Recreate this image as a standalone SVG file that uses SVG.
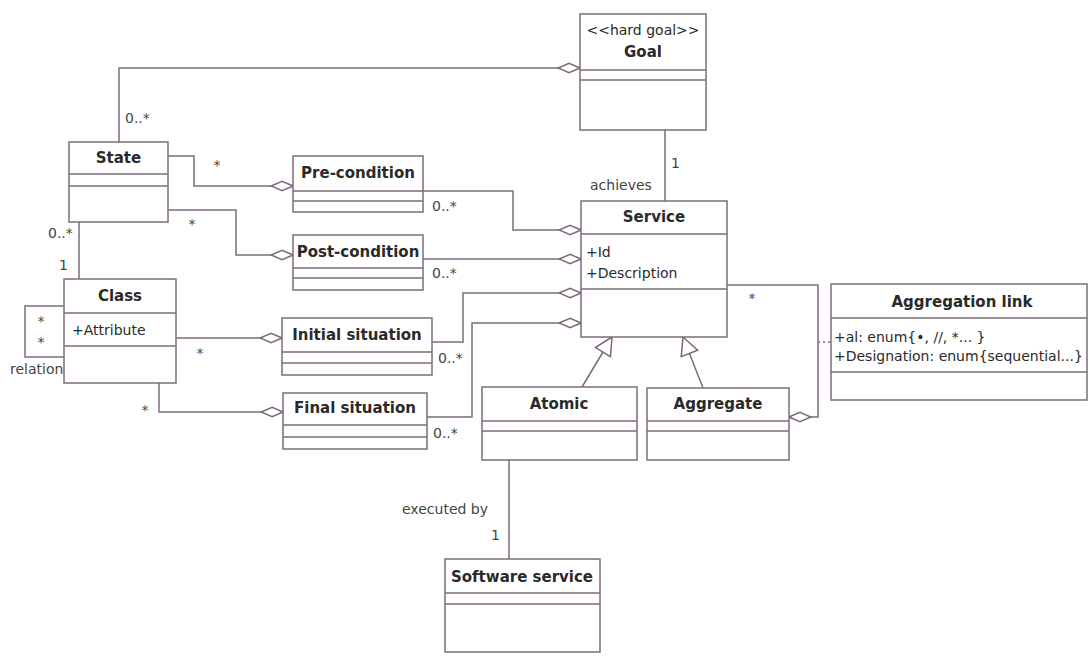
<svg xmlns="http://www.w3.org/2000/svg" width="1090" height="656" viewBox="0 0 1090 656">
<style>
.box{fill:#fff;stroke:#7d6b7d;stroke-width:1.5}
.sep{stroke:#7d6b7d;stroke-width:1.5}
.ln{fill:none;stroke:#7d6b7d;stroke-width:1.5}
.agg{marker-end:url(#diamond)}
.gen{marker-end:url(#tri)}
.t{font-family:"DejaVu Sans",Verdana,sans-serif;fill:#2a2a2a}
.name{font-size:15px;font-weight:bold;text-anchor:middle}
.attr{font-size:14px}
.lbl{font-size:14px;fill:#444}
.mid{text-anchor:middle}
</style>
<defs>
<marker id="diamond" markerUnits="userSpaceOnUse" markerWidth="24" markerHeight="12" viewBox="0 0 22 10" refX="21" refY="5" orient="auto">
<path d="M1,5 L11,0.8 L21,5 L11,9.2 Z" fill="#fff" stroke="#7d6b7d" stroke-width="1.4"/>
</marker>
<marker id="tri" markerUnits="userSpaceOnUse" markerWidth="22" markerHeight="22" viewBox="0 0 20 20" refX="19" refY="10" orient="auto">
<path d="M19,10 L3,2 L3,18 Z" fill="#fff" stroke="#7d6b7d" stroke-width="1.4"/>
</marker>
</defs>

<g id="connectors">
<path class="ln agg" d="M119,142 L119,68 L580,68"/>
<path class="ln" d="M665,130 L665,201"/>
<path class="ln" d="M79,222 L79,279"/>
<path class="ln" d="M64,306 L25,306 L25,357 L64,357"/>
<path class="ln agg" d="M168,156 L194,156 L194,186 L293,186"/>
<path class="ln agg" d="M168,210 L236,210 L236,255 L293,255"/>
<path class="ln agg" d="M176,338 L282,338"/>
<path class="ln agg" d="M159,383 L159,412 L283,412"/>
<path class="ln agg" d="M423,191 L513,191 L513,230 L581,230"/>
<path class="ln agg" d="M423,259 L581,259"/>
<path class="ln agg" d="M432,342 L463,342 L463,293 L581,293"/>
<path class="ln agg" d="M427,417 L472,417 L472,323 L581,323"/>
<path class="ln gen" d="M582,387 L612,337"/>
<path class="ln gen" d="M703,388 L683,337"/>
<path class="ln agg" d="M727,285 L818,285 L818,417 L789,417"/>
<path class="ln" d="M818,342 L831,342" stroke-dasharray="2,3"/>
<path class="ln" d="M509,460 L509,559"/>
</g>

<g id="labels">
<text class="t lbl" x="125" y="123">0..*</text>
<text class="t lbl mid" x="217" y="170">*</text>
<text class="t lbl mid" x="192" y="229">*</text>
<text class="t lbl" x="48" y="238">0..*</text>
<text class="t lbl" x="59" y="270">1</text>
<text class="t lbl mid" x="41" y="326">*</text>
<text class="t lbl mid" x="41" y="347">*</text>
<text class="t lbl" x="10" y="374">relation</text>
<text class="t lbl mid" x="200" y="358">*</text>
<text class="t lbl mid" x="145" y="415">*</text>
<text class="t lbl" x="432" y="211">0..*</text>
<text class="t lbl" x="432" y="278">0..*</text>
<text class="t lbl" x="438" y="363">0..*</text>
<text class="t lbl" x="433" y="438">0..*</text>
<text class="t lbl" x="590" y="190">achieves</text>
<text class="t lbl" x="671" y="168">1</text>
<text class="t lbl mid" x="752" y="303">*</text>
<text class="t lbl" x="402" y="514">executed by</text>
<text class="t lbl" x="491" y="540">1</text>
</g>

<g id="goal">
<rect class="box" x="580" y="14" width="126" height="116"/>
<line class="sep" x1="580" y1="70" x2="706" y2="70"/>
<line class="sep" x1="580" y1="80" x2="706" y2="80"/>
<text class="t attr mid" x="643" y="35">&lt;&lt;hard goal&gt;&gt;</text>
<text class="t name" x="643" y="57">Goal</text>
</g>

<g id="state">
<rect class="box" x="69" y="142" width="99" height="80"/>
<line class="sep" x1="69" y1="174" x2="168" y2="174"/>
<line class="sep" x1="69" y1="186" x2="168" y2="186"/>
<text class="t name" x="118.5" y="163">State</text>
</g>

<g id="class">
<rect class="box" x="64" y="279" width="112" height="104"/>
<line class="sep" x1="64" y1="313" x2="176" y2="313"/>
<line class="sep" x1="64" y1="346" x2="176" y2="346"/>
<text class="t name" x="120" y="301">Class</text>
<text class="t attr" x="72" y="335">+Attribute</text>
</g>

<g id="precondition">
<rect class="box" x="293" y="156" width="130" height="56"/>
<line class="sep" x1="293" y1="191" x2="423" y2="191"/>
<line class="sep" x1="293" y1="201" x2="423" y2="201"/>
<text class="t name" x="358" y="178">Pre-condition</text>
</g>

<g id="postcondition">
<rect class="box" x="293" y="235" width="130" height="55"/>
<line class="sep" x1="293" y1="268" x2="423" y2="268"/>
<line class="sep" x1="293" y1="278" x2="423" y2="278"/>
<text class="t name" x="358" y="257">Post-condition</text>
</g>

<g id="initial">
<rect class="box" x="282" y="318" width="150" height="57"/>
<line class="sep" x1="282" y1="352" x2="432" y2="352"/>
<line class="sep" x1="282" y1="363" x2="432" y2="363"/>
<text class="t name" x="357" y="340">Initial situation</text>
</g>

<g id="final">
<rect class="box" x="283" y="393" width="144" height="56"/>
<line class="sep" x1="283" y1="425" x2="427" y2="425"/>
<line class="sep" x1="283" y1="437" x2="427" y2="437"/>
<text class="t name" x="355" y="413">Final situation</text>
</g>

<g id="service">
<rect class="box" x="581" y="201" width="146" height="136"/>
<line class="sep" x1="581" y1="234" x2="727" y2="234"/>
<line class="sep" x1="581" y1="289" x2="727" y2="289"/>
<text class="t name" x="654" y="222">Service</text>
<text class="t attr" x="586" y="257">+Id</text>
<text class="t attr" x="586" y="278">+Description</text>
</g>

<g id="atomic">
<rect class="box" x="482" y="387" width="155" height="73"/>
<line class="sep" x1="482" y1="421" x2="637" y2="421"/>
<line class="sep" x1="482" y1="431" x2="637" y2="431"/>
<text class="t name" x="559" y="409">Atomic</text>
</g>

<g id="aggregate">
<rect class="box" x="647" y="388" width="142" height="72"/>
<line class="sep" x1="647" y1="421" x2="789" y2="421"/>
<line class="sep" x1="647" y1="431" x2="789" y2="431"/>
<text class="t name" x="718" y="409">Aggregate</text>
</g>

<g id="aggregationlink">
<rect class="box" x="831" y="284" width="256" height="116"/>
<line class="sep" x1="831" y1="318" x2="1087" y2="318"/>
<line class="sep" x1="831" y1="372" x2="1087" y2="372"/>
<text class="t name" x="962" y="307">Aggregation link</text>
<text class="t attr" x="834" y="342">+al: enum{•, //, *... }</text>
<text class="t attr" x="834" y="361">+Designation: enum{sequential...}</text>
</g>

<g id="software">
<rect class="box" x="445" y="559" width="155" height="93"/>
<line class="sep" x1="445" y1="593" x2="600" y2="593"/>
<line class="sep" x1="445" y1="604" x2="600" y2="604"/>
<text class="t name" x="522" y="582">Software service</text>
</g>
</svg>
